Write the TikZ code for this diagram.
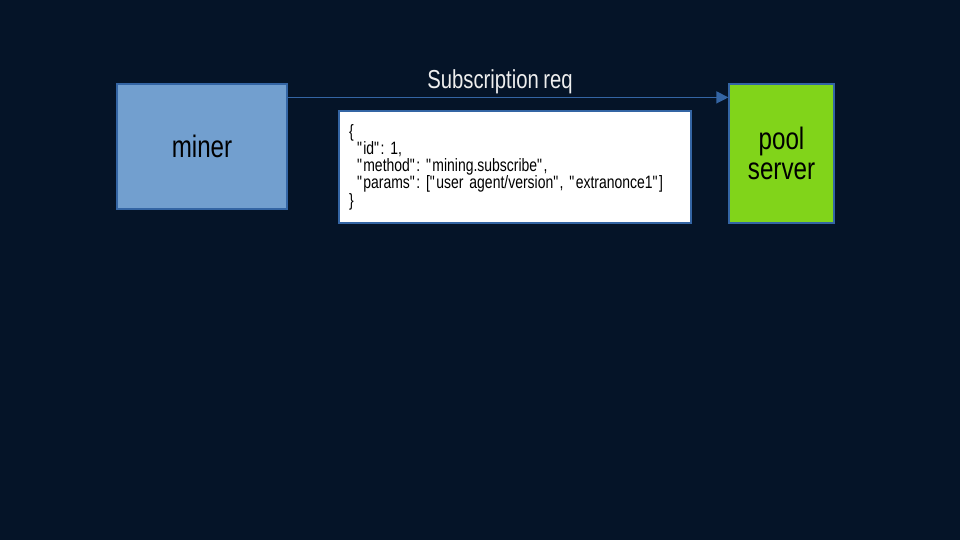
\documentclass[tikz,border=0pt]{standalone}
\usepackage{fontspec}
\setmainfont[FakeStretch=0.78,WordSpace=0.78]{Liberation Sans}
\usepackage{tikz}
\usetikzlibrary{arrows.meta}
\definecolor{bgnavy}{RGB}{5,20,40}
\definecolor{minerblue}{RGB}{114,159,207}
\definecolor{edgeblue}{RGB}{52,101,164}
\definecolor{poolgreen}{RGB}{129,212,26}
\definecolor{labelgrey}{RGB}{238,238,238}
\newcommand{\dq}{\textquotedbl}
\frenchspacing
\tikzset{
  box/.style={draw=edgeblue,line width=1.2pt,inner sep=0pt,text=black},
  bigtext/.style={font=\fontsize{31}{30}\selectfont},
  req/.style={-{Triangle[length=12pt,width=12pt]},draw=edgeblue,line width=1.2pt}
}
\begin{document}
\begin{tikzpicture}[x=1pt,y=-1pt]
    % Background
    \fill[bgnavy] (0,0) rectangle (960,540);
    \useasboundingbox (0,0) rectangle (960,540);
    % Boxes
    \node[box,bigtext,fill=minerblue,minimum width=170pt,minimum height=125pt] (miner) at (202,146.5) {miner};
    \node[box,bigtext,fill=poolgreen,minimum width=105pt,minimum height=139pt,align=center] (pool) at (781.5,153.5) {pool\\server};
    % Message
    \node[box,fill=white,minimum width=352pt,minimum height=112pt,inner xsep=10pt,text width=332pt,align=left,
          font=\fontsize{17.9}{17.2}\selectfont] (json) at (515,167)
      {\{\\
       \hspace*{8pt}\dq id\dq: 1,\\
       \hspace*{8pt}\dq method\dq: \dq mining.subscribe\dq,\\
       \hspace*{8pt}\dq params\dq: [\dq user agent/version\dq, \dq extranonce1\dq]\\
       \}};
    % Request
    \draw[req] ([yshift=-14pt]miner.north east) -- ([yshift=-14pt]pool.north west);
    \node[anchor=base,text=labelgrey,font=\fontsize{26}{30}\selectfont] (reqlabel) at (500,89) {Subscription req};
\end{tikzpicture}
\end{document}
